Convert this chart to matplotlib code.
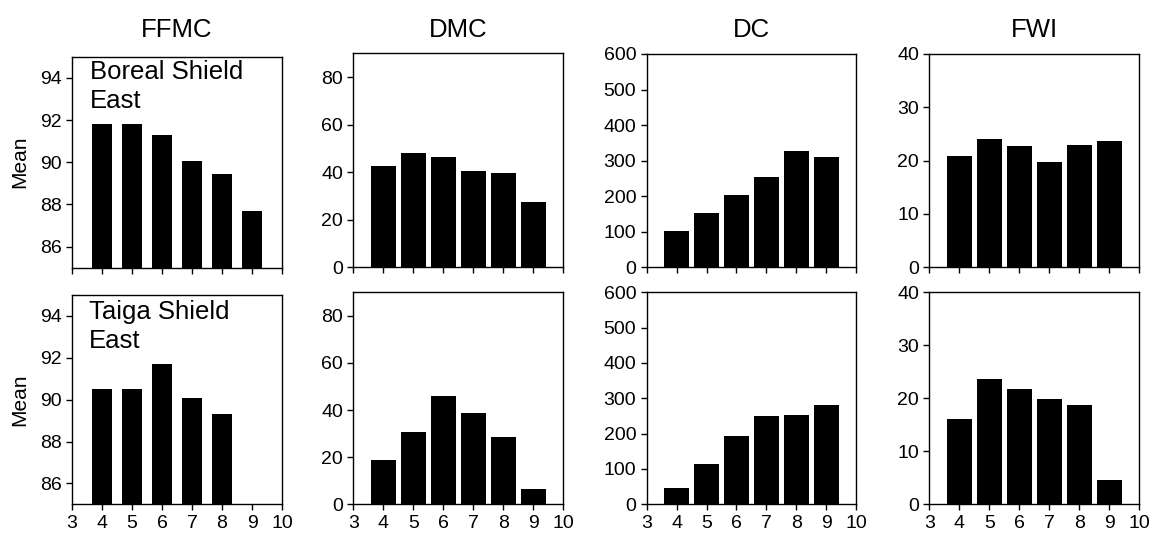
import numpy as np
import matplotlib
matplotlib.use("Agg")
import matplotlib.pyplot as plt

plt.rcParams['font.family'] = ['Liberation Sans', 'DejaVu Sans']

months = [4, 5, 6, 7, 8, 9]
indices = ["FFMC", "DMC", "DC", "FWI"]
regions = ["Boreal Shield\nEast", "Taiga Shield\nEast"]

# Boreal Shield East (top row)
boreal_ffmc = [91.8, 91.8, 91.3, 90.05, 89.45, 87.7]
boreal_dmc = [42.5, 48.0, 46.5, 40.3, 39.6, 27.3]
boreal_dc = [102, 153, 204, 254, 327, 309]
boreal_fwi = [20.9, 24.0, 22.7, 19.7, 23.0, 23.6]

# Taiga Shield East (bottom row)
taiga_ffmc = [90.5, 90.5, 91.7, 90.1, 89.3, np.nan]
taiga_dmc = [18.8, 30.5, 45.8, 38.8, 28.4, 6.3]
taiga_dc = [46, 115, 194, 249, 253, 281]
taiga_fwi = [16.0, 23.6, 21.8, 19.9, 18.7, 4.6]

data = [[boreal_ffmc, boreal_dmc, boreal_dc, boreal_fwi],
        [taiga_ffmc, taiga_dmc, taiga_dc, taiga_fwi]]

ylims = [(85, 95), (0, 90), (0, 600), (0, 40)]
yticks = [[86, 88, 90, 92, 94], [0, 20, 40, 60, 80],
          [0, 100, 200, 300, 400, 500, 600], [0, 10, 20, 30, 40]]
xticks = [3, 4, 5, 6, 7, 8, 9, 10]
bar_widths = [0.64, 0.84, 0.84, 0.84]

W, H = 1151, 533
fig = plt.figure(figsize=(W / 100, H / 100), dpi=100)

# pixel boxes: (left, right, top, bottom)
lefts = [72, 353.3, 646.7, 929.3]
rights = [282, 563.3, 856, 1139.3]
tops = [[56.7, 53.3, 54, 54], [295, 292.3, 292.3, 292.3]]
bottoms = [[267.8, 267.3, 267.3, 267.3], [504.3, 504.3, 504.3, 504.3]]

label_pos = [(90, 60), (89, 300)]

for r in range(2):
    for c in range(4):
        l, rr = lefts[c], rights[c]
        t, b = tops[r][c], bottoms[r][c]
        ax = fig.add_axes([l / W, 1 - b / H, (rr - l) / W, (b - t) / H])
        ax.bar(months, data[r][c], width=bar_widths[c], color='black',
               edgecolor='none')
        ax.set_xlim(3, 10)
        ax.set_ylim(*ylims[c])
        ax.set_xticks(xticks)
        ax.set_yticks(yticks[c])
        ax.tick_params(direction='out', length=4, width=1, labelsize=14,
                       pad=3.5, colors='black', top=False, right=False)
        if r == 0:
            ax.set_xticklabels([])
        for s in ax.spines.values():
            s.set_linewidth(1.0)
        if c == 0:
            lx, ly = label_pos[r]
            ax.text((lx - l) / (rr - l), (b - ly) / (b - t), regions[r],
                    transform=ax.transAxes, ha='left', va='top',
                    fontsize=18.5, linespacing=1.25)
    fig.text(20 / W, 1 - ((tops[r][0] + bottoms[r][0]) / 2) / H, "Mean",
             rotation=90, ha='center', va='center', fontsize=15)

for c in range(4):
    fig.text(((lefts[c] + rights[c]) / 2) / W, 1 - 37 / H, indices[c],
             ha='center', va='baseline', fontsize=18.5)

fig.savefig("out.png", dpi=100)
